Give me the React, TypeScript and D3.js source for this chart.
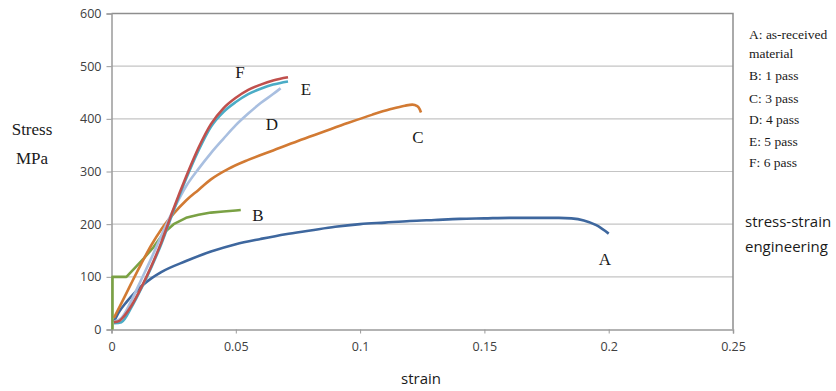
import React, { useRef, useEffect } from 'react';
import * as d3 from 'd3';

// strain / stress pairs
const strainA = [0.001, 0.003, 0.006, 0.009, 0.012, 0.016, 0.02, 0.03, 0.04, 0.05, 0.06, 0.07, 0.08, 0.09, 0.1, 0.11, 0.12, 0.13, 0.14, 0.15, 0.16, 0.17, 0.18, 0.185, 0.19, 0.195, 0.2];
const stressA = [15, 33, 52, 68, 82, 97, 109, 130, 148, 162, 172, 181, 188, 195, 200, 203, 206, 208, 210, 211, 212, 212, 212, 211, 207, 198, 182];

const strainB = [0.0004, 0.0004, 0.006, 0.008, 0.01, 0.013, 0.017, 0.021, 0.025, 0.03, 0.035, 0.04, 0.045, 0.05, 0.052];
const stressB = [0, 100, 100, 110, 120, 135, 157, 183, 200, 212, 218, 222, 224, 226, 227];

const strainC = [0.001, 0.004, 0.008, 0.012, 0.016, 0.02, 0.025, 0.03, 0.035, 0.04, 0.047, 0.055, 0.065, 0.075, 0.085, 0.095, 0.105, 0.112, 0.118, 0.121, 0.123, 0.124, 0.1245];
const stressC = [22, 50, 88, 125, 160, 190, 220, 245, 265, 285, 305, 322, 340, 358, 375, 392, 408, 418, 425, 427, 424, 418, 412];

const strainD = [0.001, 0.004, 0.008, 0.012, 0.016, 0.02, 0.025, 0.03, 0.035, 0.04, 0.045, 0.05, 0.055, 0.06, 0.065, 0.068];
const stressD = [15, 22, 55, 95, 135, 178, 228, 272, 305, 335, 362, 388, 410, 430, 447, 458];

const strainE = [0.001, 0.004, 0.008, 0.012, 0.016, 0.02, 0.025, 0.03, 0.035, 0.04, 0.045, 0.05, 0.055, 0.06, 0.065, 0.071];
const stressE = [12, 14, 42, 78, 118, 162, 226, 286, 340, 385, 413, 432, 447, 457, 465, 471];

const strainF = [0.001, 0.003, 0.005, 0.008, 0.012, 0.016, 0.02, 0.025, 0.03, 0.035, 0.04, 0.045, 0.05, 0.055, 0.06, 0.065, 0.071];
const stressF = [14, 16, 25, 45, 80, 120, 165, 230, 290, 345, 390, 420, 440, 455, 465, 473, 479];

const seriesNames = ['A', 'B', 'C', 'D', 'E', 'F'];
const legendLines = ['A: as-received', 'material', 'B: 1 pass', 'C: 3 pass', 'D: 4 pass', 'E: 5 pass', 'F: 6 pass'];
const xTicks = [0, 0.05, 0.1, 0.15, 0.2, 0.25];
const yTicks = [0, 100, 200, 300, 400, 500, 600];

const W = 836;
const H = 391;

const App = () => {
  const svgRef = useRef(null);

  useEffect(() => {
    const svg = d3.select(svgRef.current);
    svg.selectAll('*').remove();

    const x = d3.scaleLinear().domain([0, 0.25]).range([111.5, 733]);
    const y = d3.scaleLinear().domain([0, 600]).range([329.5, 13.5]);
    const serif = 'Liberation Serif, Times New Roman, serif';
    const sans = 'Open Sans, sans-serif';

    // gridlines
    svg.append('g')
      .selectAll('line')
      .data(yTicks.filter((t) => t > 0 && t < 600))
      .join('line')
      .attr('x1', x(0))
      .attr('x2', x(0.25))
      .attr('y1', (d) => y(d))
      .attr('y2', (d) => y(d))
      .attr('stroke', '#c4c4c4')
      .attr('stroke-width', 1.2);

    // plot border (top / right)
    svg.append('path')
      .attr('d', `M${x(0)},${y(600)}H${x(0.25)}V${y(0)}`)
      .attr('fill', 'none')
      .attr('stroke', '#8e8e8e')
      .attr('stroke-width', 1.5);

    const yAxis = svg.append('g')
      .attr('transform', `translate(${x(0)},0)`)
      .call(d3.axisLeft(y).tickValues(yTicks).tickSize(5).tickPadding(5).tickFormat(d3.format('d')));
    const xAxis = svg.append('g')
      .attr('transform', `translate(0,${y(0)})`)
      .call(d3.axisBottom(x).tickValues(xTicks).tickSize(4).tickPadding(9).tickFormat((d) => String(d)));

    [yAxis, xAxis].forEach((ax) => {
      ax.select('.domain').attr('stroke', '#9a9a9a').attr('stroke-width', 1.5);
      ax.selectAll('.tick line').attr('stroke', '#9a9a9a');
      ax.selectAll('.tick text')
        .attr('fill', '#404040')
        .style('font-family', sans)
        .style('font-size', '12.5px');
    });

    const series = [
      { name: 'A', xs: strainA, ys: stressA, color: '#3e679e' },
      { name: 'B', xs: strainB, ys: stressB, color: '#7aa144' },
      { name: 'C', xs: strainC, ys: stressC, color: '#d27a33' },
      { name: 'D', xs: strainD, ys: stressD, color: '#a9bfe0' },
      { name: 'E', xs: strainE, ys: stressE, color: '#4bacc6' },
      { name: 'F', xs: strainF, ys: stressF, color: '#c0504d' },
    ];

    const smooth = d3.line()
      .x((d) => x(d[0]))
      .y((d) => y(d[1]))
      .curve(d3.curveMonotoneX);
    // B opens with a vertical jump, so keep it straight-segmented
    const straight = d3.line()
      .x((d) => x(d[0]))
      .y((d) => y(d[1]));

    svg.append('g')
      .selectAll('path')
      .data(series)
      .join('path')
      .attr('d', (s) => (s.name === 'B' ? straight : smooth)(s.xs.map((v, i) => [v, s.ys[i]])))
      .attr('fill', 'none')
      .attr('stroke', (s) => s.color)
      .attr('stroke-width', 2.6)
      .attr('stroke-linejoin', 'round');

    // curve letters
    const letterPos = {
      A: [605, 265], B: [258, 221], C: [418, 143], D: [272, 130], E: [306, 95], F: [240, 78],
    };
    svg.append('g')
      .selectAll('text')
      .data(seriesNames)
      .join('text')
      .attr('x', (d) => letterPos[d][0])
      .attr('y', (d) => letterPos[d][1])
      .attr('text-anchor', 'middle')
      .attr('font-family', serif)
      .attr('font-size', 17)
      .attr('fill', '#1a1a1a')
      .text((d) => d);

    // legend block
    const legendY = [39, 58, 80, 102.5, 124, 146, 167];
    svg.append('g')
      .selectAll('text')
      .data(legendLines)
      .join('text')
      .attr('x', 749)
      .attr('y', (d, i) => legendY[i])
      .attr('font-family', serif)
      .attr('font-size', 13.5)
      .attr('fill', '#1a1a1a')
      .text((d) => d);

    // axis titles
    svg.append('text').attr('x', 32).attr('y', 135).attr('text-anchor', 'middle')
      .attr('font-family', serif).attr('font-size', 17).attr('fill', '#1a1a1a').text('Stress');
    svg.append('text').attr('x', 32).attr('y', 164).attr('text-anchor', 'middle')
      .attr('font-family', serif).attr('font-size', 17).attr('fill', '#1a1a1a').text('MPa');
    svg.append('text').attr('x', 421).attr('y', 384).attr('text-anchor', 'middle')
      .attr('font-family', sans).attr('font-size', 15).attr('fill', '#1a1a1a').text('strain');
    svg.append('text').attr('x', 745).attr('y', 227)
      .attr('font-family', sans).attr('font-size', 15).attr('fill', '#1a1a1a').text('stress-strain');
    svg.append('text').attr('x', 745).attr('y', 252)
      .attr('font-family', sans).attr('font-size', 15).attr('fill', '#1a1a1a').text('engineering');
  }, []);

  return (
    <svg ref={svgRef} width={W} height={H} style={{ position: 'absolute', left: 0, top: 0, background: '#fff' }} />
  );
};

export default App;
